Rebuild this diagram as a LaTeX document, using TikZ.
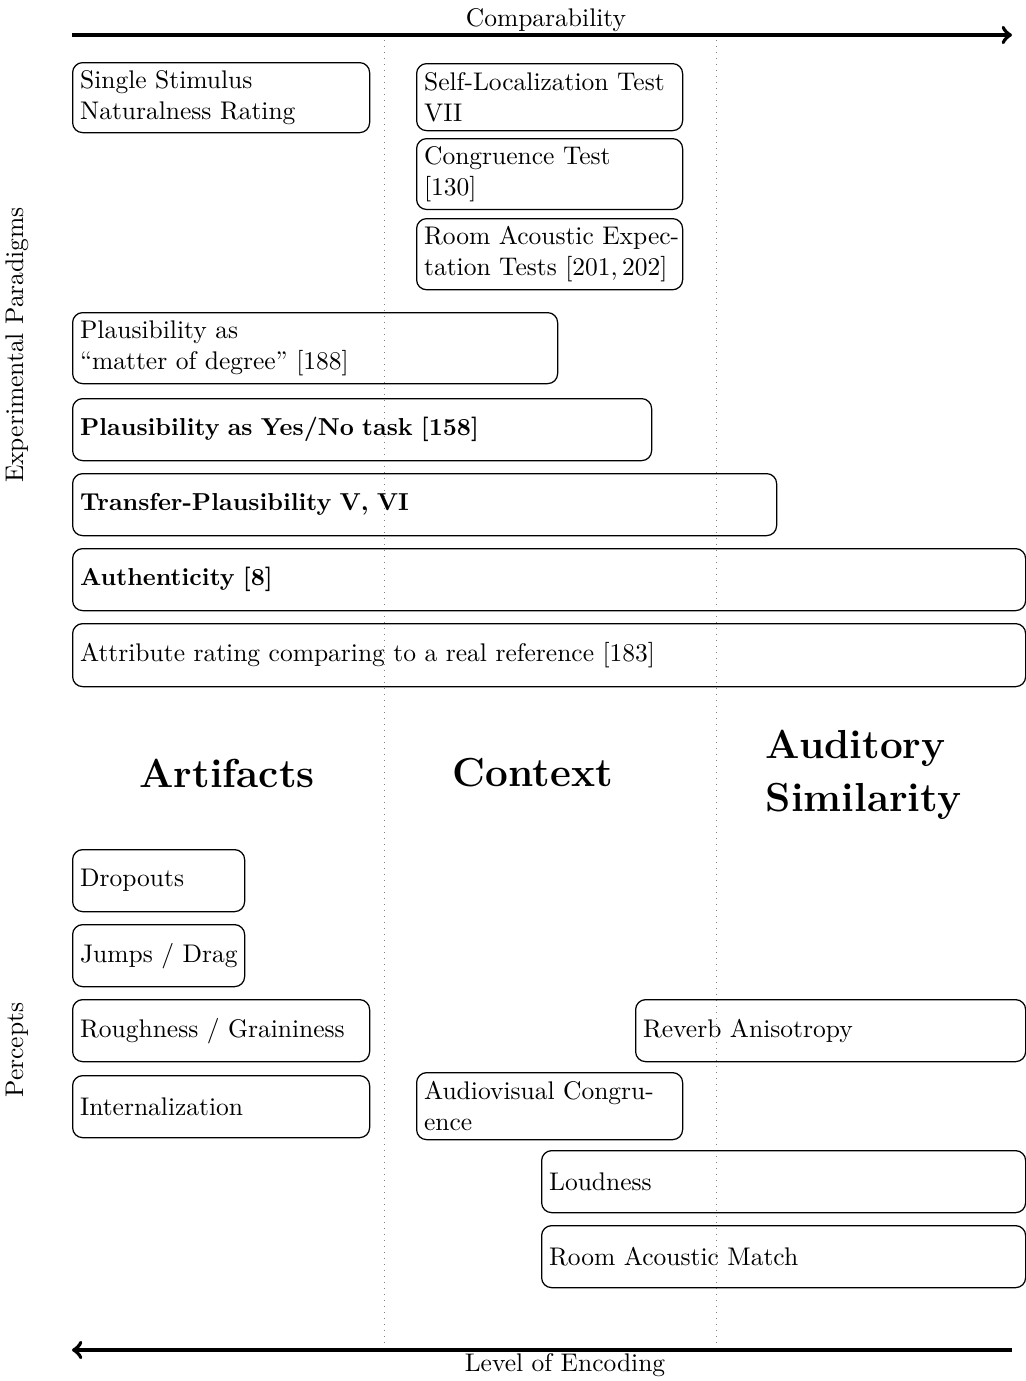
\documentclass[tikz,border=0pt]{standalone}
\begin{document}
\begin{tikzpicture}[x=0.4pt,y=-0.4pt,
  font=\fontsize{10.2}{12.6}\selectfont,
  pbox/.style={draw, rounded corners=4pt, line width=0.5pt, inner xsep=3pt, inner ysep=3pt, align=left, anchor=north west},
  boldtext/.style={font=\fontsize{9.8}{12.6}\selectfont\bfseries},
  head/.style={font=\fontsize{16.2}{21}\selectfont\bfseries, align=center},
  axis/.style={line width=1.6pt},
  sep/.style={dotted, gray, line width=0.4pt}]
\newcommand\mybox[7][]{%
  \pgfmathsetmacro\bw{(#5-#3)*0.4}%
  \pgfmathsetmacro\bh{(#6-#4)*0.4}%
  \pgfmathsetmacro\tw{(#5-#3)*0.4-6}%
  \node[pbox, minimum width=\bw pt, minimum height=\bh pt, text width=\tw pt, #1] (#2) at (#3,#4) {#7};}
\useasboundingbox (0,0) rectangle (1026,1381);
% separators
\coordinate (s1t) at (384,40); \coordinate (s1b) at (384,1345);
\coordinate (s2t) at (716,40); \coordinate (s2b) at (716,1345);
\draw[sep] (s1t) -- (s1b);
\draw[sep] (s2t) -- (s2b);
% axes
\coordinate (atl) at (72,35); \coordinate (atr) at (1012,35);
\draw[axis,-to] (atl) -- (atr);
\node (cmp) at (546,20) {Comparability};
\coordinate (abl) at (72,1350); \coordinate (abr) at (1012,1350);
\draw[axis,-to] (abr) -- (abl);
\node (loe) at (565,1365) {Level of Encoding};
% side labels
\node[rotate=90] (ep) at (17,345) {Experimental Paradigms};
\node[rotate=90] (pc) at (17,1050) {Percepts};
% paradigms
\mybox{ss}{72}{62}{369}{132}{Single Stimulus\\Naturalness Rating}
\mybox{sl}{416}{63}{682}{130}{\mbox{Self-Localization Test}\\VII}
\mybox{ct}{416}{138}{682}{206}{Congruence Test\\{}[130]}
\mybox{ra}{416}{218}{682}{289}{\mbox{Room Acoustic Expec-}\\\mbox{tation Tests [201,\,202]}}
\mybox{pm}{72}{312}{557}{383}{Plausibility as\\“matter of degree” [188]}
\mybox[boldtext]{py}{72}{398}{651}{460}{Plausibility as Yes/No task [158]}
\mybox[boldtext]{tp}{72}{473}{776}{535}{Transfer-Plausibility V, VI}
\mybox[boldtext]{au}{72}{548}{1025}{610}{Authenticity [8]}
\mybox{ar}{72}{623}{1025}{686}{Attribute rating comparing to a real reference [183]}
% headings
\node[head] (hart) at (227,773) {Artifacts};
\node[head] (hctx) at (533,773) {Context};
\node[head, align=left, anchor=west] (haud) at (757,775) {Auditory\\Similarity};
% percepts
\mybox{dr}{72}{849}{244}{911}{Dropouts}
\mybox{jd}{72}{924}{244}{986}{\mbox{Jumps / Drag}}
\mybox{rg}{72}{999}{369}{1061}{\mbox{Roughness / Graininess}}
\mybox{in}{72}{1075}{369}{1137}{Internalization}
\mybox{rv}{635}{999}{1025}{1061}{Reverb Anisotropy}
\mybox{av}{416}{1072}{682}{1139}{\mbox{Audiovisual Congru-}\\ence}
\mybox{ld}{541}{1150}{1025}{1212}{Loudness}
\mybox{rm}{541}{1225}{1025}{1287}{Room Acoustic Match}
\end{tikzpicture}
\end{document}
